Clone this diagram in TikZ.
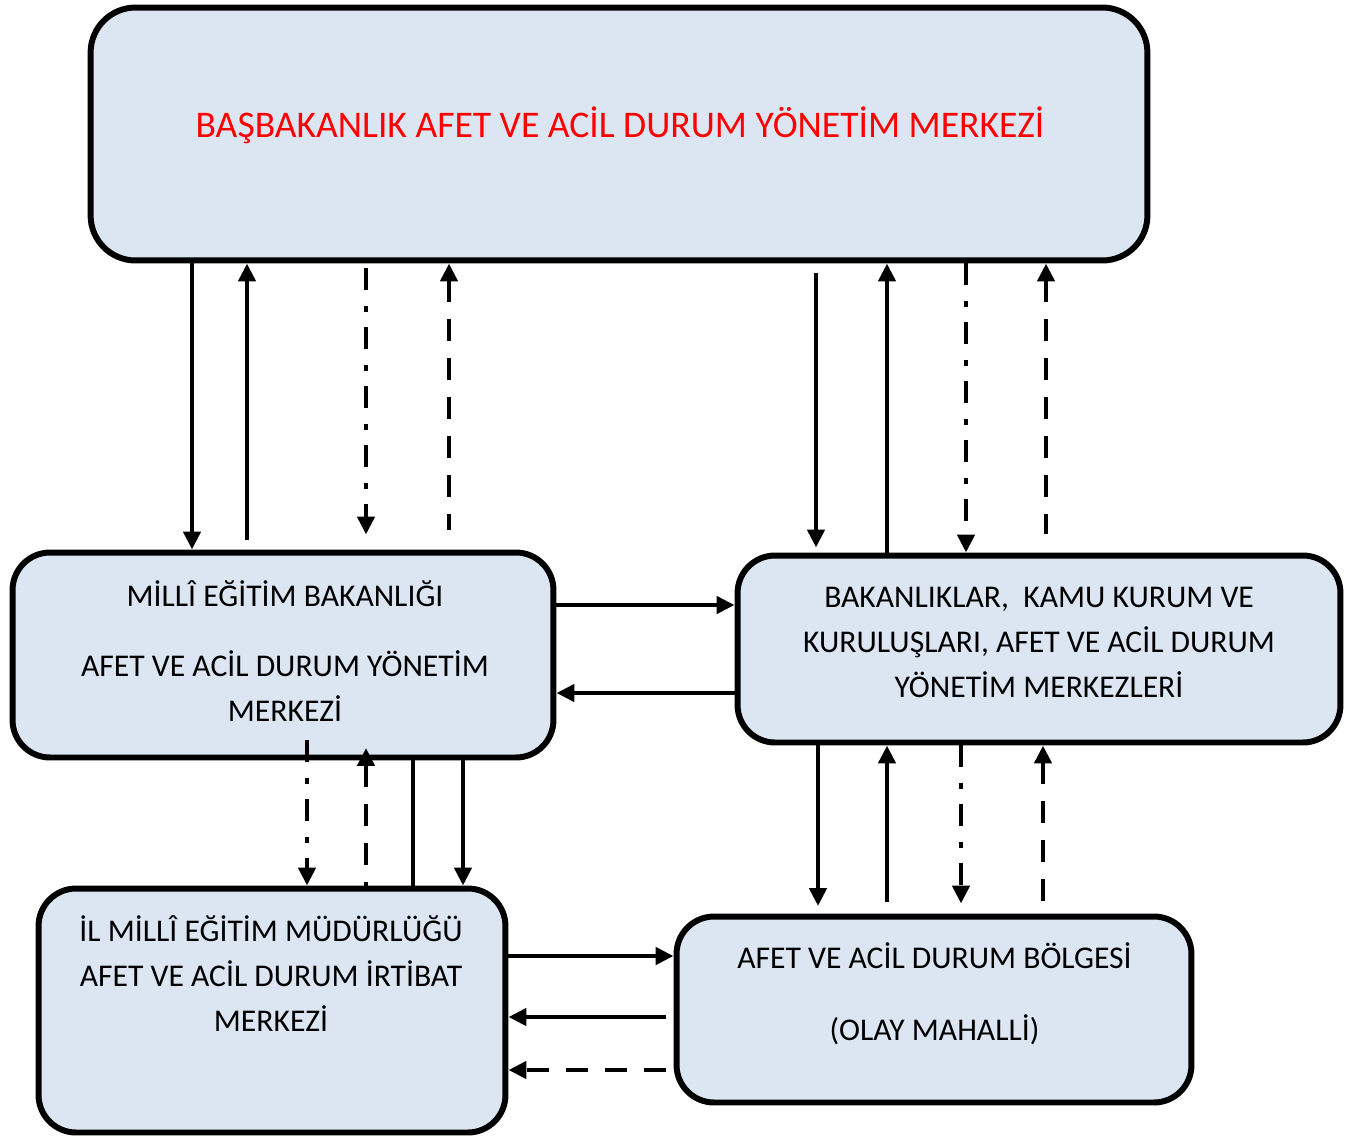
\documentclass[tikz,border=0pt]{standalone}
\usepackage{fontspec}
\setmainfont{Carlito}
\usetikzlibrary{
    positioning,
    arrows.meta
}
\definecolor{BoxFill}{RGB}{220,230,242}
\definecolor{TitleRed}{RGB}{255,0,0}

\begin{document}
\begin{tikzpicture}[
    x=0.02cm, y=-0.02cm,
    >={Triangle[length=0.36cm,width=0.34cm]},
    box/.style={draw, line width=3.4pt, fill=BoxFill, rounded corners=0.75cm, inner sep=0pt},
    boxtext/.style={align=center, inner sep=0pt, font=\fontsize{18}{25.6}\selectfont},
    link/.style={line width=2.8pt},
    dashlink/.style={link, dash pattern=on 0.44cm off 0.34cm},
    dotlink/.style={link, dash pattern=on 0.44cm off 0.31cm on 0.12cm off 0.31cm},
    soliddown/.style={link, ->},
    solidup/.style={link, <-},
    solidplain/.style={link},
    dotdown/.style={dotlink, ->},
    dashup/.style={dashlink, <-},
  ]
  \useasboundingbox (0,0) rectangle (1365,1140);

  % Boxes
  \node[box, rounded corners=0.9cm, minimum width=21.14cm, minimum height=5.06cm] (top) at (619,134) {};
  \node[box, minimum width=10.82cm, minimum height=4.1cm] (meb) at (283,655) {};
  \node[box, minimum width=12.06cm, minimum height=3.74cm] (bak) at (1039,649) {};
  \node[box, minimum width=9.34cm, minimum height=4.88cm] (ilmem) at (272,1010.5) {};
  \node[box, minimum width=10.3cm, minimum height=3.72cm] (bolge) at (934,1009.5) {};

  % Box texts
  \node[boxtext, TitleRed, font=\fontsize{21.4}{28}\selectfont] (top-text) at (620,125)
    {BAŞBAKANLIK AFET VE ACİL DURUM YÖNETİM MERKEZİ};
  \node[boxtext] (meb-text) at (285,651)
    {MİLLÎ EĞİTİM BAKANLIĞI\\[0.5cm]AFET VE ACİL DURUM YÖNETİM\\MERKEZİ};
  \node[boxtext] (bak-text) at (1039,642)
    {BAKANLIKLAR,\ \ KAMU KURUM VE\\KURULUŞLARI, AFET VE ACİL DURUM\\YÖNETİM MERKEZLERİ};
  \node[boxtext] (ilmem-text) at (271,973.5)
    {İL MİLLÎ EĞİTİM MÜDÜRLÜĞÜ\\AFET VE ACİL DURUM İRTİBAT\\MERKEZİ};
  \node[boxtext] (bolge-text) at (934.5,994)
    {AFET VE ACİL DURUM BÖLGESİ\\[0.54cm](OLAY MAHALLİ)};

  % Top <-> MEB
  \foreach \x/\sty/\sa/\sb in {192/soliddown/0cm/0cm, 247/solidup/0cm/0.2cm,
                               366/dotdown/0.1cm/0.3cm, 449/dashup/0cm/0.4cm}
    \draw[\sty, shorten <=\sa, shorten >=\sb] (top.south -| \x,0) -- (meb.north -| \x,0);

  % Top <-> Bakanliklar
  \foreach \x/\sty/\sa/\sb in {816/soliddown/0.2cm/0.1cm, 887/solidup/0cm/0cm,
                               966/dotdown/0cm/0cm, 1046/dashup/0cm/0.37cm}
    \draw[\sty, shorten <=\sa, shorten >=\sb] (top.south -| \x,0) -- (bak.north -| \x,0);

  % MEB <-> Bakanliklar
  \draw[link, ->] (meb.east |- 0,605) -- (bak.west |- 0,605);
  \draw[link, ->] (bak.west |- 0,693) -- (meb.east |- 0,693);

  % MEB <-> Il MEM
  \foreach \x/\sty/\sa/\sb in {307/dotdown/-0.4cm/0cm, 366/dashup/-0.25cm/0cm,
                               413/solidplain/0cm/0cm, 463/soliddown/0cm/0cm}
    \draw[\sty, shorten <=\sa, shorten >=\sb] (meb.south -| \x,0) -- (ilmem.north -| \x,0);

  % Bakanliklar <-> Bolge
  \foreach \x/\sty/\sa/\sb in {818/soliddown/0cm/0.15cm, 887/solidup/0cm/0.23cm,
                               961/dotdown/0cm/0.2cm, 1043/dashup/0cm/0.1cm}
    \draw[\sty, shorten <=\sa, shorten >=\sb] (bak.south -| \x,0) -- (bolge.north -| \x,0);

  % Il MEM <-> Bolge
  \draw[link, ->] (ilmem.east |- 0,956) -- (bolge.west |- 0,956);
  \draw[link, ->, shorten <=0.15cm] (bolge.west |- 0,1017) -- (ilmem.east |- 0,1017);
  \draw[dashlink, ->, shorten <=0.15cm] (bolge.west |- 0,1070) -- (ilmem.east |- 0,1070);
\end{tikzpicture}
\end{document}
